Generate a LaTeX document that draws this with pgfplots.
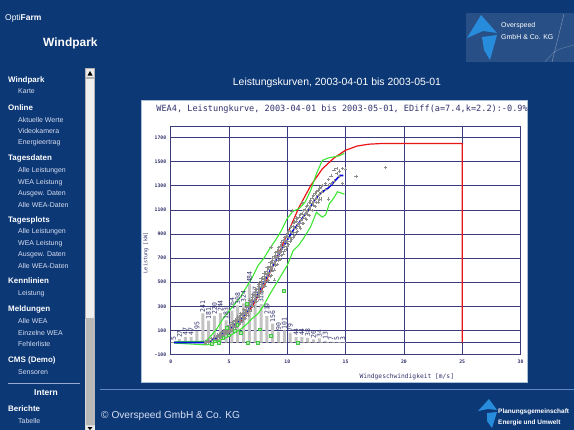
\documentclass[border=0pt]{standalone}
\usepackage{pgfplots}
\pgfplotsset{compat=1.18}
\usepackage{fontspec}
\setmainfont{Liberation Sans}
\newfontfamily\mono{DejaVu Sans Mono}
\definecolor{bgblue}{RGB}{12,56,118}
\definecolor{navy}{RGB}{50,50,110}
\definecolor{gridc}{RGB}{60,60,125}
\definecolor{barg}{RGB}{195,195,195}
\definecolor{scat}{RGB}{140,140,140}
\definecolor{gline}{RGB}{60,230,50}
\definecolor{gsq}{RGB}{70,200,70}
\definecolor{rline}{RGB}{235,20,20}
\definecolor{bline}{RGB}{10,10,225}
\definecolor{logob}{RGB}{40,140,220}
\definecolor{subt}{RGB}{215,222,240}
\definecolor{footl}{RGB}{100,135,190}
\definecolor{boxl}{RGB}{170,190,215}
\begin{document}
\begin{tikzpicture}
\useasboundingbox (0,0) rectangle (574bp,-430bp);
\fill[bgblue] (0,0) rectangle (574bp,-430bp);
\begin{scope}[x=1bp,y=-1bp]
% header
\node[anchor=west,text=white,font=\fontsize{8.5}{9}\selectfont,inner sep=0] at (5,18) {Opti\textbf{Farm}};
\node[anchor=west,text=white,font=\bfseries\fontsize{12}{13}\selectfont,inner sep=0] at (43,43) {Windpark};
% top right logo
\fill[white,opacity=0.12] (466,13) rectangle (574,62);
\draw[white,opacity=0.4,line width=0.4] (552,62) -- (564,14);
\draw[white,opacity=0.3,line width=0.4] (545,62) .. controls (555,50) .. (574,45);
\fill[logob] (467,38) -- (481,15) -- (497,33) -- (483,31) -- cycle;
\fill[logob] (482,37) -- (497,35) -- (490,60) -- (484,50) -- cycle;
\node[anchor=west,text=white,font=\fontsize{7}{8}\selectfont,inner sep=0] at (501,26) {Overspeed};
\node[anchor=west,text=white,font=\fontsize{7}{8}\selectfont,inner sep=0] at (501,37) {GmbH \& Co. KG};
% page title
\node[anchor=base,text=white,font=\fontsize{10.5}{11}\selectfont,inner sep=0] at (337,85) {Leistungskurven, 2003-04-01 bis 2003-05-01};
% sidebar
\foreach \t/\y in {Windpark/80,Online/108,Tagesdaten/158,Tagesplots/220,Kennlinien/281,Meldungen/309,CMS (Demo)/360,Berichte/409}
  \node[anchor=west,text=white,font=\bfseries\fontsize{8}{9}\selectfont,inner sep=0] at (8,\y) {\t};
\foreach \t/\y in {Karte/91,Aktuelle Werte/120,Videokamera/131,Energieertrag/143,Alle Leistungen/171,WEA Leistung/183,Ausgew. Daten/194,Alle WEA-Daten/205,Alle Leistungen/232,WEA Leistung/244,Ausgew. Daten/255,Alle WEA-Daten/266,Leistung/294,Alle WEA/321,Einzelne WEA/333,Fehlerliste/344,Sensoren/372,Tabelle/421}
  \node[anchor=west,text=subt,font=\fontsize{7}{7}\selectfont,inner sep=0] at (18,\y) {\t};
\draw[subt!70!bgblue,line width=0.6] (8,383) -- (80,383);
\node[text=white,font=\bfseries\fontsize{8.5}{9}\selectfont,inner sep=0] at (46,393) {Intern};
% scrollbar
\fill[gray!30] (85,68) rectangle (95,430);
\fill[gray!12] (85.5,78) rectangle (94.5,318);
\draw[gray!60,line width=0.4] (85.5,78) rectangle (94.5,318);
\fill[gray!55] (85.5,318) rectangle (94.5,425);
\fill[gray!15] (85.5,68.5) rectangle (94.5,77.5);
\draw[gray!60,line width=0.4] (85.5,68.5) rectangle (94.5,77.5);
\fill[black] (87.5,75.5) -- (92.5,75.5) -- (90,71) -- cycle;
\fill[gray!15] (85.5,425.5) rectangle (94.5,430);
\fill[black] (87.5,427) -- (92.5,427) -- (90,430) -- cycle;
% footer
\draw[footl,line width=0.6] (100,389.5) -- (574,389.5);
\node[anchor=west,text=subt,font=\fontsize{10.2}{11}\selectfont,inner sep=0] at (101,416) {\textcopyright\ Overspeed GmbH \& Co. KG};
\fill[logob] (478,411) -- (489,399) -- (497,410) -- (488,409) -- cycle;
\fill[logob] (487,413) -- (497,412) -- (492,428) -- (487,421) -- cycle;
\node[anchor=west,text=white,font=\bfseries\fontsize{6.5}{7}\selectfont,inner sep=0] at (498,411.5) {Planungsgemeinschaft};
\node[anchor=west,text=white,font=\bfseries\fontsize{6.5}{7}\selectfont,inner sep=0] at (498,422.5) {Energie und Umwelt};
% chart box
\fill[white] (141,100) rectangle (527,382);
\draw[boxl,line width=0.5] (141,100) rectangle (527,382);
\end{scope}
\begin{axis}[
  at={(170.7bp,-354.5bp)}, anchor=south west,
  scale only axis, width=349.8bp, height=227.8bp,
  xmin=0, xmax=30, ymin=-100, ymax=1790,
  axis line style={gridc, line width=0.8bp},
  grid=major, major grid style={gridc, line width=0.7bp},
  major tick length=0pt,
  /pgf/number format/assume math mode=true,
  xtick={0,5,10,15,20,25,30}, xticklabels={0,5,10,15,20,25,30},
  ytick={-100,100,300,500,700,900,1100,1300,1500,1700},
  yticklabels={-100,100,300,500,700,900,1100,1300,1500,1700},
  extra y ticks={0}, extra y tick labels={},
  extra y tick style={grid=major},
  ticklabel style={font=\mono\bfseries\fontsize{4.8}{5}\selectfont, text=navy},
  xticklabel style={yshift=-2bp},
  yticklabel style={xshift=-1bp},
  title={WEA4, Leistungkurve, 2003-04-01 bis 2003-05-01, EDiff(a=7.4,k=2.2):-0.9\%},
  title style={at={(axis description cs:0.49,1.051)}, anchor=center, font=\mono\fontsize{8.6}{9}\selectfont, text=navy, inner sep=0},
  xlabel={Windgeschwindigkeit  [m/s]},
  xlabel style={at={(axis description cs:0.675,-0.099)}, anchor=center, font=\mono\fontsize{6.3}{7}\selectfont, text=navy, inner sep=0},
  ylabel={Leistung  [kW]},
  ylabel style={at={(axis description cs:-0.0706,0.446)}, anchor=center, rotate=0, font=\mono\fontsize{5.2}{6}\selectfont, text=navy, inner sep=0},
  clip=false,
]
% histogram
\addplot[ybar, bar width=3bp, fill=barg, draw=none,
  nodes near coords,
  nodes near coords style={rotate=90, anchor=west, font=\mono\fontsize{6.5}{6.5}\selectfont, text=navy, inner sep=1bp}]
coordinates {(0.25,5)(0.75,27)(1.25,47)(1.75,47)(2.25,95)(2.75,241)(3.25,181)(3.75,220)(4.25,244)(4.75,183)(5.25,264)(5.75,308)(6.25,324)(6.75,484)(7.25,357)(7.75,318)(8.25,219)(8.75,156)(9.25,90)(9.75,101)(10.25,79)(10.75,44)(11.25,44)(11.75,38)(12.25,26)(12.75,34)(13.25,13)(13.75,7)(14.25,5)(14.75,3)};
\addplot[gray!80, dashed, line width=0.5bp, forget plot] coordinates {(0,0)(15,0)};
% scatter of measured values
\addplot[only marks, mark=+, mark size=1.6bp, scat, line width=0.55bp] coordinates {
(3.0,0)(3.0,8)(3.0,-6)
(3.25,10)(3.25,0)(3.25,22)
(3.5,15)(3.5,32)(3.5,4)
(3.75,30)(3.75,46)(3.75,18)
(4.0,40)(4.0,62)(4.0,28)(4.0,55)
(4.25,58)(4.25,76)(4.25,44)
(4.5,70)(4.5,96)(4.5,58)(4.5,86)
(4.75,90)(4.75,112)(4.75,74)
(5.0,100)(5.0,126)(5.0,88)(5.0,142)
(5.25,120)(5.25,152)(5.25,104)(5.25,166)
(5.5,140)(5.5,172)(5.5,124)(5.5,188)
(5.75,165)(5.75,196)(5.75,148)(5.75,212)
(6.0,190)(6.0,226)(6.0,168)(6.0,242)(6.0,206)
(6.25,214)(6.25,252)(6.25,194)(6.25,272)(6.25,234)
(6.5,250)(6.5,290)(6.5,226)(6.5,306)(6.5,270)
(6.75,290)(6.75,332)(6.75,262)(6.75,352)(6.75,310)
(7.0,330)(7.0,376)(7.0,302)(7.0,396)(7.0,352)
(7.25,370)(7.25,420)(7.25,344)(7.25,442)(7.25,396)
(7.5,410)(7.5,462)(7.5,380)(7.5,486)(7.5,440)
(7.75,456)(7.75,506)(7.75,420)(7.75,532)(7.75,480)
(8.0,500)(8.0,550)(8.0,464)(8.0,576)(8.0,522)
(8.25,546)(8.25,592)(8.25,506)(8.25,622)(8.25,566)
(8.5,586)(8.5,636)(8.5,550)(8.5,662)(8.5,610)
(8.75,630)(8.75,680)(8.75,594)(8.75,702)(8.75,656)
(9.0,670)(9.0,720)(9.0,640)(9.0,746)(9.0,700)
(9.25,714)(9.25,760)(9.25,680)(9.25,790)(9.25,740)
(9.5,760)(9.5,802)(9.5,720)(9.5,830)(9.5,780)
(9.75,800)(9.75,846)(9.75,760)(9.75,872)
(10.0,840)(10.0,882)(10.0,800)(10.0,906)
(10.25,872)(10.25,920)(10.25,840)(10.25,952)
(10.5,910)(10.5,962)(10.5,870)(10.5,992)
(10.75,950)(10.75,1002)(10.75,910)(10.75,1032)
(11.0,990)(11.0,1042)(11.0,960)
(11.25,1020)(11.25,1072)(11.25,990)
(11.5,1060)(11.5,1102)(11.5,1030)
(11.75,1090)(11.75,1142)(11.75,1060)
(12.0,1130)(12.0,1182)(12.0,1100)
(12.25,1170)(12.25,1222)(12.25,1140)
(12.5,1200)(12.5,1252)(12.5,1160)
(12.75,1230)(12.75,1282)(12.75,1190)
(13.0,1250)(13.0,1302)
(13.25,1270)(13.25,1322)
(13.5,1190)(13.5,1300)(13.5,1352)
(13.75,1320)(13.75,1382)
(14.0,1340)(14.0,1432)
(14.25,1400)(14.25,1442)
(14.5,1380)(14.5,1422)
(14.75,1320)(14.75,1442)
(15.0,1440)(15.9,1380)(18.4,1450)(10.4,1092)(11.3,1162)(8.9,520)(8.6,792)
(4.125,40)(4.125,52)(4.125,68)
(4.375,52)(4.375,70)(4.375,84)
(4.625,66)(4.625,85)(4.625,100)
(4.875,80)(4.875,100)(4.875,118)
(5.125,96)(5.125,118)(5.125,138)
(5.375,112)(5.375,138)(5.375,160)
(5.625,130)(5.625,158)(5.625,184)
(5.875,150)(5.875,182)(5.875,208)
(6.125,175)(6.125,206)(6.125,236)
(6.375,200)(6.375,234)(6.375,266)
(6.625,228)(6.625,268)(6.625,302)
(6.875,262)(6.875,305)(6.875,344)
(7.125,300)(7.125,346)(7.125,390)
(7.375,340)(7.375,390)(7.375,438)
(7.625,385)(7.625,436)(7.625,484)
(7.875,428)(7.875,480)(7.875,530)
(8.125,470)(8.125,526)(8.125,578)
(8.375,515)(8.375,570)(8.375,622)
(8.625,558)(8.625,616)(8.625,668)
(8.875,602)(8.875,660)(8.875,712)
(9.125,646)(9.125,706)(9.125,758)
(9.375,690)(9.375,750)(9.375,802)
(9.625,735)(9.625,794)(9.625,846)
(9.875,775)(9.875,834)(9.875,884)
(10.125,815)(10.125,874)(10.125,924)
(10.375,852)(10.375,914)(10.375,964)
(10.625,890)(10.625,950)(10.625,1000)
(10.875,920)(10.875,980)(10.875,1030)
(11.125,950)(11.125,1012)(11.125,1060)
(11.375,985)(11.375,1046)(11.375,1095)
(11.625,1020)(11.625,1082)(11.625,1130)
(11.875,1055)(11.875,1116)(11.875,1165)
(12.125,1095)(12.125,1152)(12.125,1200)
(12.375,1130)(12.375,1186)(12.375,1235)
(12.625,1165)(12.625,1218)(12.625,1265)
(12.875,1190)(12.875,1242)(12.875,1290)
};
% reference power curve
\addplot[rline, line width=1.2bp] coordinates {(3.2,0)(4,40)(5,100)(6,175)(7,300)(8,470)(9,680)(10,900)(11,1120)(12,1300)(13,1440)(14,1530)(15,1595)(16,1630)(17,1645)(18,1650)(25,1650)(25,0)};
% upper envelope
\addplot[gline, line width=1.1bp] coordinates {(0.3,5)(3.0,10)(3.5,60)(4,120)(4.5,200)(5,260)(5.5,320)(6,380)(6.5,460)(7,540)(7.5,640)(8,700)(8.5,780)(9,850)(9.5,930)(10,1030)(10.5,1090)(11,1110)(11.5,1160)(12,1260)(12.5,1400)(13,1510)(13.5,1530)(14,1540)(14.5,1550)(14.9,1570)};
% lower envelope
\addplot[gline, line width=1.1bp] coordinates {(0.3,-5)(3,-20)(3.5,-15)(4,10)(4.5,30)(5,50)(5.5,80)(6,110)(6.5,150)(7,200)(7.5,240)(8,310)(8.5,400)(9,480)(9.5,560)(10,640)(10.5,760)(11,810)(11.5,880)(12,960)(12.5,1080)(13,1040)(13.3,1060)(13.6,1150)(14,1200)(14.3,1250)(14.9,1230)};
% flagged values
\addplot[only marks, mark=square*, mark size=1.4bp, draw=gsq, fill=gsq!45!white] coordinates {(3.5,-10)(3.8,10)(4.1,0)(4.5,40)(4.8,120)(5.0,60)(5.5,100)(5.7,150)(6.0,80)(6.5,320)(6.6,0)(7.45,0)(7.6,110)(8.6,55)(9.72,427)(10.9,0)};
% measured mean curve
\addplot[bline, line width=1.6bp] coordinates {(0.3,0)(1,0)(2,0)(3,0)(3.5,15)(4,45)(4.5,75)(5,105)(5.5,145)(6,190)(6.5,245)(7,320)(7.5,410)(8,500)(8.5,590)(9,680)(9.5,770)(10,850)(10.5,930)(11,990)(11.5,1060)(12,1130)(12.5,1200)(13,1250)(13.5,1280)(14,1330)(14.5,1385)(14.8,1385)};
\end{axis}
\end{tikzpicture}
\end{document}
